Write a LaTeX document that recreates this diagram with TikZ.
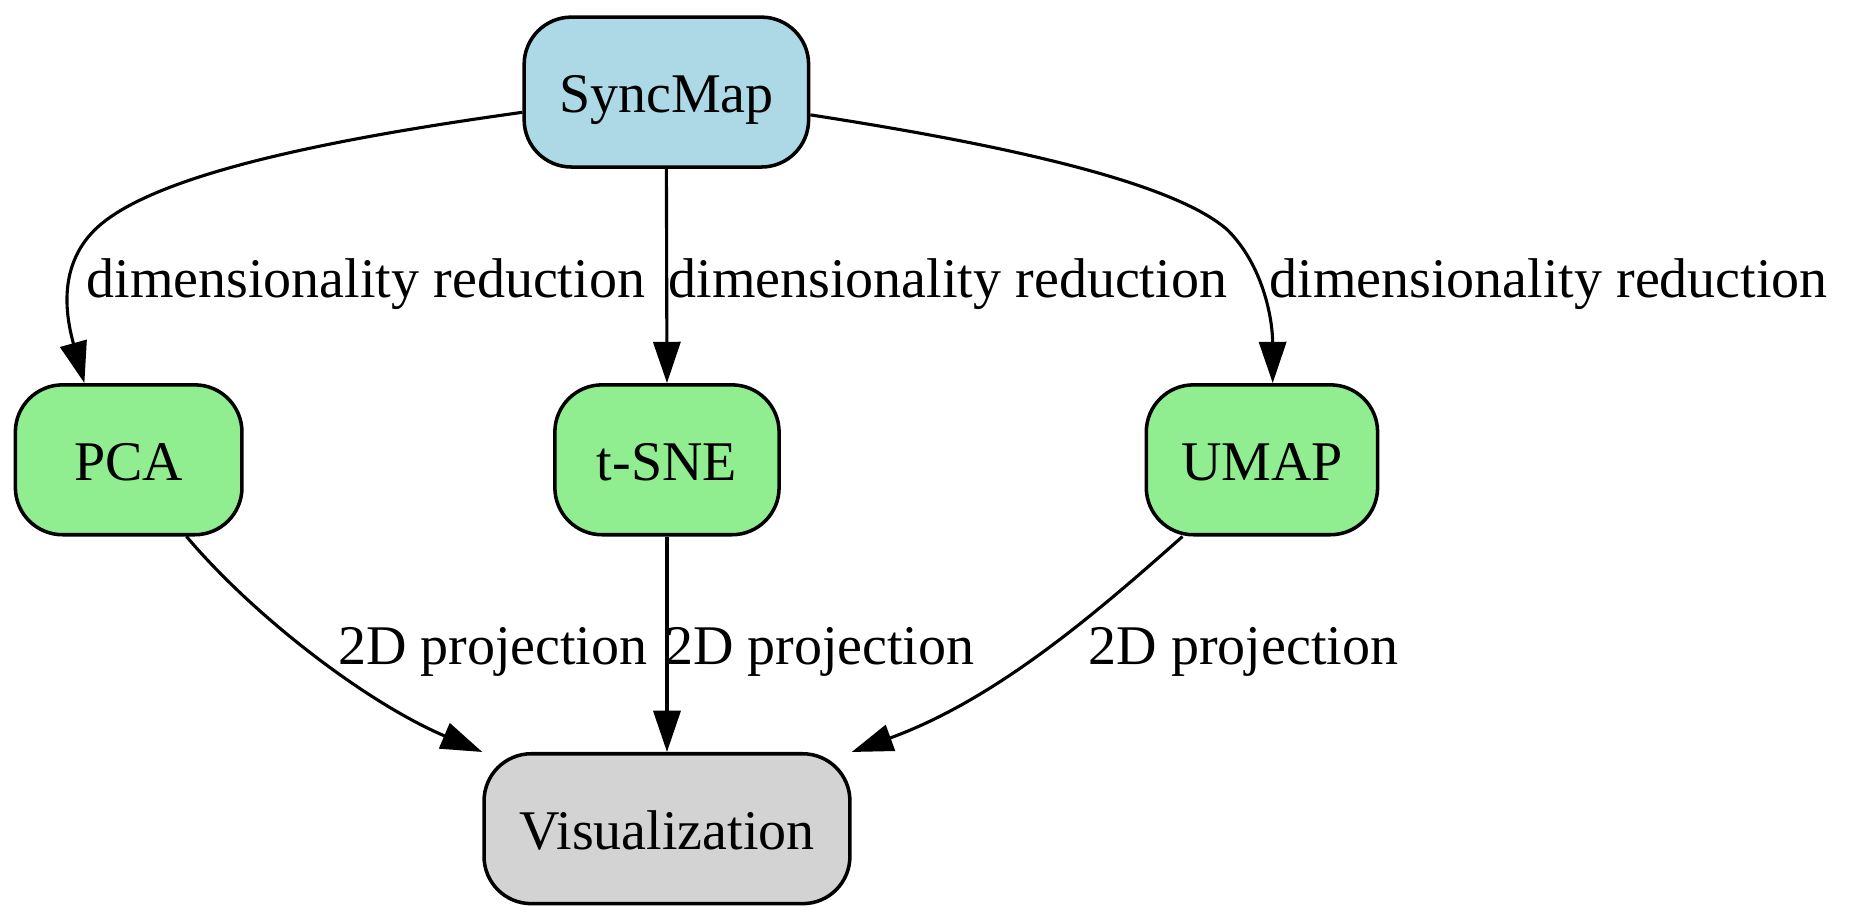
\documentclass[tikz,border=0pt]{standalone}
\usepackage{fontspec}
\setmainfont{Liberation Serif}
\usetikzlibrary{arrows.meta}
\definecolor{lblue}{HTML}{ADD8E6}
\definecolor{lgreen}{HTML}{90EE90}
\definecolor{lgray}{HTML}{D3D3D3}
\begin{document}
\begin{tikzpicture}[x=0.02cm,y=-0.02cm,
  box/.style={draw=black, line width=1.7pt, rounded corners=0.8cm, minimum height=2.54cm,
    inner sep=0pt, font=\fontsize{27}{32}\selectfont, text height=24pt, text depth=4pt},
  edge/.style={line width=1.5pt, -{Triangle[length=0.7cm,width=0.46cm]}},
  lab/.style={font=\fontsize{27}{32}\selectfont, inner sep=0pt, anchor=base west}]
\useasboundingbox (0,0) rectangle (1568,780);
\node[box, fill=lblue, minimum width=4.82cm] (s) at (564.5,78) {SyncMap};
\node[box, fill=lgreen, minimum width=3.84cm] (p) at (109,389.5) {PCA};
\node[box, fill=lgreen, minimum width=3.80cm] (t) at (565,389.5) {t-SNE};
\node[box, fill=lgreen, minimum width=3.92cm] (u) at (1069,389.5) {UMAP};
\node[box, fill=lgray, minimum width=6.20cm] (v) at (565,702) {Visualization};

\draw[edge] (s.188) .. controls (300,115) and (130,145) .. (80,195)
  .. controls (50,225) and (55,265) .. (p.120);
\draw[edge] (s.south) -- (t.north);
\draw[edge] (s.351) .. controls (820,118) and (990,150) .. (1040,195)
  .. controls (1070,225) and (1078,270) .. (u.82);
\draw[edge] (p.307) .. controls (215,522) and (310,595) .. (v.north west);
\draw[edge] (t.south) -- (v.north);
\draw[edge] (u.224) .. controls (930,518) and (845,592) .. (v.north east);

\node[lab] (l1) at (73,252) {dimensionality reduction};
\node[lab] (l2) at (566,252) {dimensionality reduction};
\node[lab] (l3) at (1075,252) {dimensionality reduction};
\node[lab] (l4) at (286,563) {2D projection};
\node[lab] (l5) at (563,563) {2D projection};
\node[lab] (l6) at (922,563) {2D projection};
\end{tikzpicture}
\end{document}
